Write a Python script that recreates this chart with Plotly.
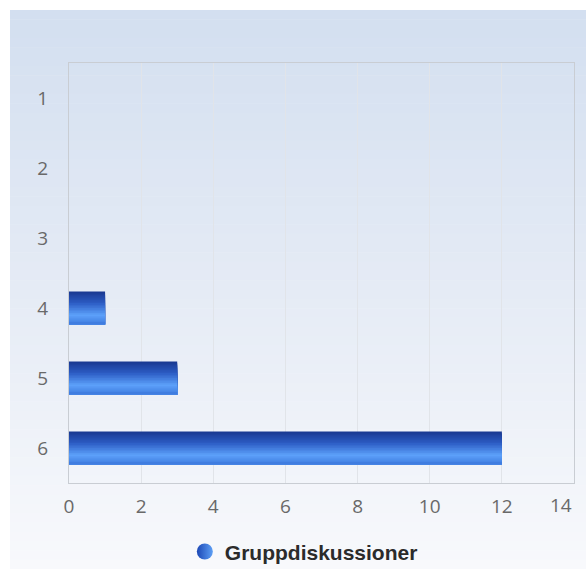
import plotly.graph_objects as go

categories = ["1", "2", "3", "4", "5", "6"]
values = [0, 0, 0, 1, 3, 12]
series_name = "Gruppdiskussioner"
x_ticks = [0, 2, 4, 6, 8, 10, 12, 14]

W, H = 586, 569
ML, MR, MT, MB = 69, 12, 63, 86
PW, PH = W - ML - MR, H - MT - MB


def hex2rgb(h):
    h = h.lstrip("#")
    return tuple(int(h[i:i + 2], 16) for i in (0, 2, 4))


def interp(stops, t):
    for (t0, c0), (t1, c1) in zip(stops, stops[1:]):
        if t0 <= t <= t1:
            f = (t - t0) / (t1 - t0) if t1 > t0 else 0
            a, b = hex2rgb(c0), hex2rgb(c1)
            return "rgb(%d,%d,%d)" % tuple(round(a[k] + (b[k] - a[k]) * f) for k in range(3))
    return stops[-1][1]


fig = go.Figure()

# bar with vertical gradient: each strip reaches to the bar's bottom edge,
# later (lower) strips overlay earlier ones, so no gaps appear
bar_w = 0.47
N = 20
bar_stops = [(0, "#19378f"), (0.35, "#2c5cc4"), (0.72, "#5da1fa"), (1.0, "#3d79de")]
for i in range(N):
    off = -bar_w / 2 + i * bar_w / N
    fig.add_trace(go.Bar(
        y=categories, x=values, orientation="h",
        width=bar_w / 2 - off, offset=off,
        marker=dict(color=interp(bar_stops, (i + 0.5) / N), line=dict(width=0)),
        showlegend=False, hoverinfo="skip" if i else "x+y", name=series_name,
    ))

# legend entry
fig.add_trace(go.Scatter(
    x=[None], y=[None], mode="markers", name=series_name,
    marker=dict(symbol="circle", size=16, color="#1b47b5",
                gradient=dict(type="horizontal", color="#5d9ff5")),
))

# background gradient
shapes = []
bg_stops = [(0, "#d3dff0"), (0.5, "#e5ebf5"), (1.0, "#f8f9fc")]
top_px, bot_px, left_px = 10, H, 10
NS = 60
for i in range(NS):
    y0p = top_px + (bot_px - top_px) * i / NS
    y1p = top_px + (bot_px - top_px) * (i + 1) / NS + 0.5
    shapes.append(dict(
        type="rect", xref="paper", yref="paper", layer="below",
        x0=(left_px - ML) / PW, x1=(W - ML) / PW,
        y0=(MT + PH - y1p) / PH, y1=(MT + PH - y0p) / PH,
        fillcolor=interp(bg_stops, (i + 0.5) / NS), line=dict(width=0),
    ))

font_family = "Liberation Sans, Arial, sans-serif"
tick_font = dict(family="Open Sans, Liberation Sans, sans-serif", size=19, color="#696969")

# last x tick label is kept inside the chart (right-aligned at its tick)
tick_text = [str(v) for v in x_ticks[:-1]] + [""]
annotations = [dict(x=x_ticks[-1], xref="x", y=0, yref="paper", yanchor="top",
                    xanchor="right", yshift=-7, xshift=0, showarrow=False,
                    text=str(x_ticks[-1]), font=tick_font)]

fig.update_layout(
    width=W, height=H,
    margin=dict(l=ML, r=MR, t=MT, b=MB, autoexpand=False),
    paper_bgcolor="white", plot_bgcolor="rgba(0,0,0,0)",
    barmode="overlay", shapes=shapes, annotations=annotations,
    font=dict(family=font_family, size=16, color="#666666"),
    xaxis=dict(range=[0, 14], tickvals=x_ticks, ticktext=tick_text, showgrid=True,
               gridcolor="#e1e4e9",
               gridwidth=1, zeroline=False, showline=True, linecolor="#c9cdd3",
               mirror=True, ticks="outside", ticklen=6, tickcolor="rgba(0,0,0,0)",
               tickfont=tick_font, automargin=False),
    yaxis=dict(type="category", categoryorder="array", categoryarray=categories,
               autorange="reversed", showgrid=False, zeroline=False, showline=True,
               linecolor="#c9cdd3", mirror=True, ticks="outside", ticklen=16,
               tickcolor="rgba(0,0,0,0)", tickfont=tick_font, automargin=False),
    legend=dict(orientation="h", x=0.465, xanchor="center", y=-0.164, yanchor="middle",
                bgcolor="rgba(0,0,0,0)",
                font=dict(family=font_family, size=21, color="#2b2b2b", weight="bold")),
    showlegend=True,
)

fig.write_html("out.html", config={"displayModeBar": False},
               post_script="document.body.style.margin='0';")
